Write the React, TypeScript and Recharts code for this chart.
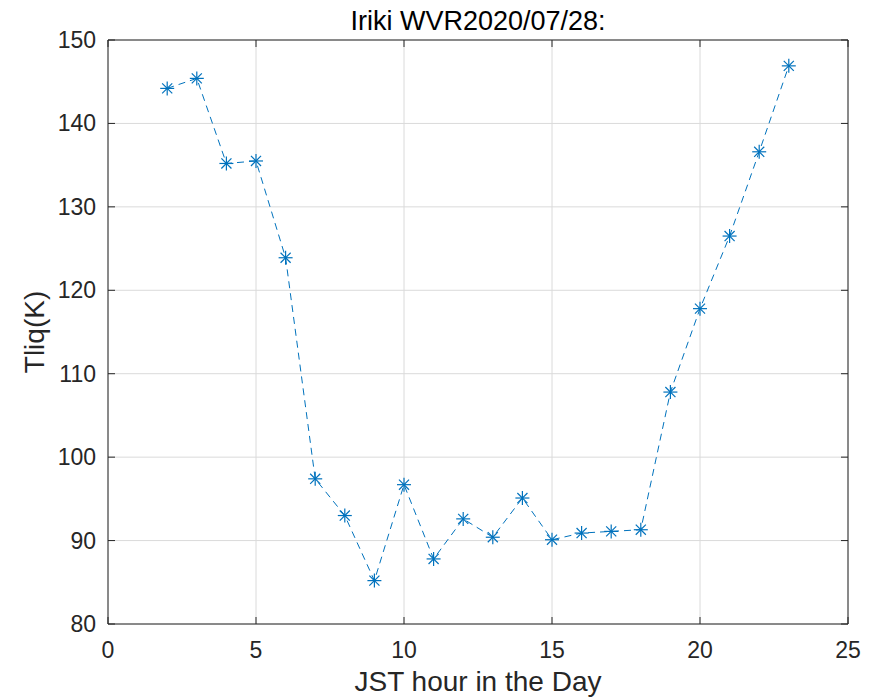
import React from 'react';
import { LineChart, Line, XAxis, YAxis, CartesianGrid, ReferenceLine, Label } from 'recharts';

const hours = [2, 3, 4, 5, 6, 7, 8, 9, 10, 11, 12, 13, 14, 15, 16, 17, 18, 19, 20, 21, 22, 23];
const tliq = [144.2, 145.4, 135.2, 135.5, 123.9, 97.4, 93.0, 85.2, 96.7, 87.8, 92.6, 90.4, 95.1, 90.1, 90.9, 91.1, 91.3, 107.8, 117.8, 126.5, 136.6, 146.9];
const xTicks = [0, 5, 10, 15, 20, 25];
const yTicks = [80, 90, 100, 110, 120, 130, 140, 150];
const titleText = 'Iriki WVR2020/07/28:';
const xLabel = 'JST hour in the Day';
const yLabel = 'Tliq(K)';

const data = hours.map((h, i) => ({ hour: h, tliq: tliq[i] }));

const COLOR = '#0072BD';
const AX = '#262626';
const FONT = '"Liberation Sans", Arial, sans-serif';

const Asterisk = (props: any) => {
  const { cx, cy } = props;
  if (cx == null || cy == null) return null;
  const r = 7;
  const d = r * 0.72;
  return (
    <g stroke={COLOR} strokeWidth={1.2}>
      <line x1={cx - r} y1={cy} x2={cx + r} y2={cy} />
      <line x1={cx} y1={cy - r} x2={cx} y2={cy + r} />
      <line x1={cx - d} y1={cy - d} x2={cx + d} y2={cy + d} />
      <line x1={cx - d} y1={cy + d} x2={cx + d} y2={cy - d} />
    </g>
  );
};

const XTick = (props: any) => {
  const { x, y, payload } = props;
  return (
    <g>
      <line x1={x} y1={y} x2={x} y2={y - 7} stroke={AX} strokeWidth={1} />
      <line x1={x} y1={40} x2={x} y2={47} stroke={AX} strokeWidth={1} />
      <text x={x} y={y + 34} textAnchor="middle" fill={AX} fontSize={23} fontFamily={FONT}>
        {payload.value}
      </text>
    </g>
  );
};

const YTick = (props: any) => {
  const { x, y, payload } = props;
  return (
    <g>
      <line x1={x} y1={y} x2={x + 7} y2={y} stroke={AX} strokeWidth={1} />
      <line x1={848} y1={y} x2={841} y2={y} stroke={AX} strokeWidth={1} />
      <text x={x - 12} y={y + 8} textAnchor="end" fill={AX} fontSize={23} fontFamily={FONT}>
        {payload.value}
      </text>
    </g>
  );
};

export default function App() {
  return (
    <div style={{ position: 'absolute', left: 0, top: 0, width: 874, height: 698, background: '#fff' }}>
      <div
        style={{
          position: 'absolute',
          left: 108,
          width: 740,
          top: 5,
          textAlign: 'center',
          fontFamily: FONT,
          fontSize: 27,
          color: '#000',
          lineHeight: '32px',
          whiteSpace: 'nowrap',
        }}
      >
        {titleText}
      </div>
      <LineChart width={874} height={698} data={data} margin={{ top: 40, right: 26, bottom: 0, left: 0 }}>
        <CartesianGrid stroke="#dadada" strokeWidth={1} />
        <XAxis
          dataKey="hour"
          type="number"
          domain={[0, 25]}
          ticks={xTicks}
          height={74}
          stroke={AX}
          tickLine={false}
          tickSize={0}
          tickMargin={0}
          tick={<XTick />}
        >
          <Label value={xLabel} position="insideBottom" offset={7} style={{ fill: AX, fontSize: 28, fontFamily: FONT }} />
        </XAxis>
        <YAxis
          type="number"
          domain={[80, 150]}
          ticks={yTicks}
          width={108}
          stroke={AX}
          tickLine={false}
          tickSize={0}
          tickMargin={0}
          tick={<YTick />}
        >
          <Label value={yLabel} angle={-90} position="insideLeft" offset={34} style={{ fill: AX, fontSize: 28, fontFamily: FONT, textAnchor: 'middle' }} />
        </YAxis>
        <ReferenceLine y={150} stroke={AX} strokeWidth={1} />
        <ReferenceLine x={25} stroke={AX} strokeWidth={1} />
        <Line
          type="linear"
          dataKey="tliq"
          stroke={COLOR}
          strokeWidth={1}
          strokeDasharray="7 5"
          dot={<Asterisk />}
          isAnimationActive={false}
        />
      </LineChart>
    </div>
  );
}
